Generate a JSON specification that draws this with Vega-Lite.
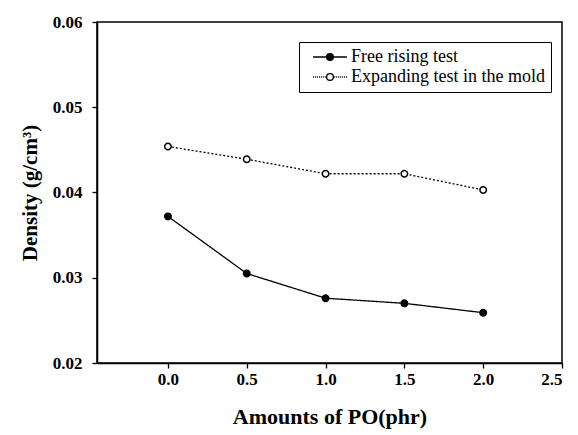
{
  "$schema": "https://vega.github.io/schema/vega-lite/v6.json",
  "autosize": {"type": "none"},
  "padding": {"left": 97, "top": 22, "right": 16, "bottom": 72},
  "width": 465,
  "height": 341,
  "background": "white",
  "config": {
    "view": {"stroke": "black", "strokeWidth": 1.5},
    "axis": {
      "grid": false,
      "domainColor": "black",
      "domainWidth": 1.5,
      "tickColor": "black",
      "tickSize": 5,
      "tickWidth": 1.3,
      "labelFont": "Liberation Serif",
      "labelFontWeight": "bold",
      "labelFontSize": 17,
      "labelColor": "black",
      "titleFont": "Liberation Serif",
      "titleFontWeight": "bold",
      "titleFontSize": 21,
      "titleColor": "black"
    }
  },
  "data": {
    "values": [
      {"po": 0.0, "density": 0.0372, "series": "Free rising test"},
      {"po": 0.5, "density": 0.0305, "series": "Free rising test"},
      {"po": 1.0, "density": 0.0276, "series": "Free rising test"},
      {"po": 1.5, "density": 0.0270, "series": "Free rising test"},
      {"po": 2.0, "density": 0.0259, "series": "Free rising test"},
      {"po": 0.0, "density": 0.0454, "series": "Expanding test in the mold"},
      {"po": 0.5, "density": 0.0439, "series": "Expanding test in the mold"},
      {"po": 1.0, "density": 0.0422, "series": "Expanding test in the mold"},
      {"po": 1.5, "density": 0.0422, "series": "Expanding test in the mold"},
      {"po": 2.0, "density": 0.0403, "series": "Expanding test in the mold"}
    ]
  },
  "encoding": {
    "x": {
      "field": "po",
      "type": "quantitative",
      "scale": {"domain": [-0.45, 2.5], "nice": false, "zero": false},
      "axis": {
        "title": "Amounts of PO(phr)",
        "titleFontSize": 22,
        "values": [0, 0.5, 1, 1.5, 2, 2.5],
        "format": ".1f",
        "labelPadding": 3,
        "titlePadding": 19
      }
    },
    "y": {
      "field": "density",
      "type": "quantitative",
      "scale": {"domain": [0.02, 0.06], "nice": false, "zero": false},
      "axis": {
        "title": "Density (g/cm³)",
        "values": [0.02, 0.03, 0.04, 0.05, 0.06],
        "format": ".2f",
        "labelPadding": 10,
        "titlePadding": 12
      }
    }
  },
  "layer": [
    {
      "mark": {"type": "line", "color": "black", "strokeWidth": 1.3},
      "encoding": {
        "detail": {"field": "series"},
        "strokeDash": {
          "field": "series",
          "type": "nominal",
          "scale": {
            "domain": ["Expanding test in the mold", "Free rising test"],
            "range": [[2, 2], [1, 0]]
          },
          "legend": null
        }
      }
    },
    {
      "mark": {"type": "point", "shape": "circle", "size": 42, "stroke": "black", "strokeWidth": 1.5, "opacity": 1},
      "encoding": {
        "fill": {
          "field": "series",
          "type": "nominal",
          "scale": {
            "domain": ["Free rising test", "Expanding test in the mold"],
            "range": ["black", "white"]
          },
          "legend": {
            "title": null,
            "orient": "none",
            "legendX": 202,
            "legendY": 20,
            "direction": "vertical",
            "padding": 6,
            "rowPadding": 2,
            "fillColor": "white",
            "strokeColor": "black",
            "cornerRadius": 0,
            "symbolSize": 46,
            "symbolStrokeColor": "black",
            "symbolStrokeWidth": 1.3,
            "symbolOffset": 16,
            "symbolOpacity": 1,
            "labelOffset": 12,
            "labelFont": "Liberation Serif",
            "labelFontSize": 18,
            "labelColor": "black",
            "labelLimit": 400,
            "encode": {
              "symbols": {
                "update": {
                  "shape": {
                    "signal": "datum.value == 'Free rising test' ? 'M-5,0H-1M1,0H5M-1,0A1,1 0 1,1 1,0A1,1 0 1,1 -1,0Z' : 'M-5,0H-4.7M-4.4,0H-4.1M-3.8,0H-3.5M-3.2,0H-2.9M-2.6,0H-2.3M-2,0H-1.7M-1.4,0H-1.1M1.1,0H1.4M1.7,0H2M2.3,0H2.6M2.9,0H3.2M3.5,0H3.8M4.1,0H4.4M4.7,0H5M-1,0A1,1 0 1,1 1,0A1,1 0 1,1 -1,0Z'"
                  }
                }
              }
            }
          }
        }
      }
    }
  ]
}
